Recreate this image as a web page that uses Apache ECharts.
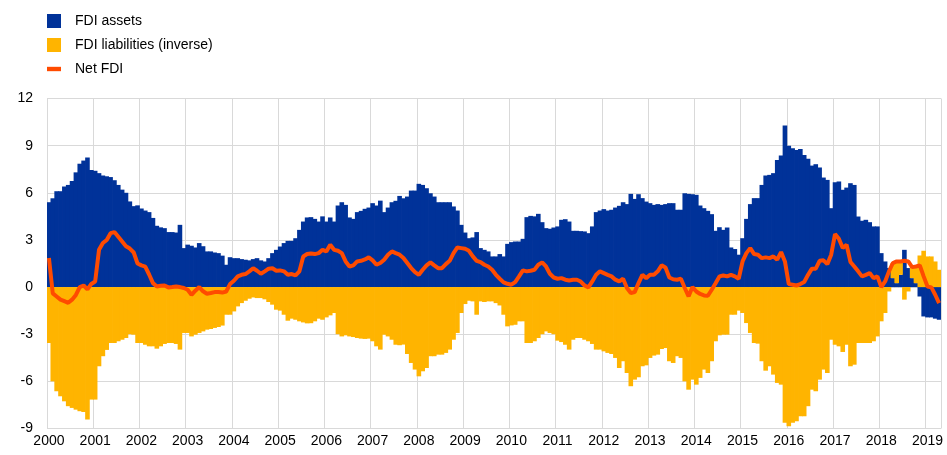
<!DOCTYPE html>
<html>
<head>
<meta charset="utf-8">
<script src="https://cdn.jsdelivr.net/npm/echarts@6/dist/echarts.min.js"></script>
<style>
  html, body { margin: 0; padding: 0; background: #fff; }
  #chart { width: 947px; height: 455px; }
</style>
</head>
<body>
<div id="chart"></div>
<script>
// monthly, Jan 2000 - Apr 2019
const startYear = 2000
const monthCount = 232

const fdiAssets = [
  5.4, 5.65, 6.1, 6.1, 6.4, 6.5, 6.75, 7.3, 7.85, 8.05, 8.25, 7.45,
  7.4, 7.25, 7.1, 7.05, 7.0, 6.8, 6.5, 6.2, 6.0, 5.45, 5.15, 5.2,
  5.0, 4.87, 4.77, 4.4, 3.9, 3.8, 3.75, 3.5, 3.5, 3.47, 3.96, 2.48,
  2.7, 2.63, 2.52, 2.8, 2.6, 2.27, 2.27, 2.2, 2.16, 2.0, 1.42, 1.9,
  1.84, 1.84, 1.78, 1.74, 1.7, 1.78, 1.84, 1.7, 1.63, 1.84, 2.16, 2.37,
  2.58, 2.8, 2.94, 2.94, 3.11, 3.64, 4.17, 4.43, 4.45, 4.34, 4.17, 4.5,
  4.17, 4.43, 4.17, 5.19, 5.4, 5.23, 4.43, 4.34, 4.77, 4.85, 4.98, 5.06,
  5.34, 5.19, 5.5, 4.77, 5.06, 5.4, 5.49, 5.8, 5.65, 5.76, 6.14, 6.14,
  6.57, 6.5, 6.29, 5.97, 5.76, 5.4, 5.4, 5.4, 5.4, 5.13, 4.87, 3.96,
  3.47, 3.11, 3.16, 3.5, 2.48, 2.37, 2.27, 1.95, 1.95, 2.1, 1.95, 2.75,
  2.86, 2.9, 2.9, 3.07, 4.45, 4.53, 4.5, 4.66, 4.13, 3.75, 3.71, 3.79,
  3.86, 4.28, 4.32, 4.17, 3.58, 3.58, 3.56, 3.54, 3.43, 3.86, 4.77, 4.87,
  4.96, 4.87, 4.92, 5.06, 5.17, 5.4, 5.28, 5.93, 5.61, 5.91, 5.66, 5.44,
  5.34, 5.23, 5.28, 5.23, 5.28, 5.34, 5.34, 4.92, 4.92, 5.97, 5.93, 5.91,
  5.87, 5.19, 5.02, 4.85, 4.64, 3.58, 3.81, 3.64, 3.79, 2.52, 2.42, 2.06,
  3.11, 4.34, 5.28, 5.66, 5.66, 6.5, 7.1, 7.14, 7.25, 8.09, 8.37, 10.28,
  9.0, 8.83, 8.73, 8.79, 8.41, 8.16, 7.73, 7.82, 7.61, 6.97, 6.82, 5.02,
  6.67, 6.72, 6.19, 6.33, 6.61, 6.5, 4.49, 4.22, 4.28, 4.13, 3.86, 3.86,
  2.16, 1.63, 1.21, 0.57, 0.25, 0.78, 2.37, 1.21, 0.57, 0.25, -0.6, -1.87,
  -1.93, -1.93, -2.01, -2.08
]

const fdiLiabilities = [
  -3.56, -6.0, -6.63, -6.95, -7.27, -7.58, -7.69, -7.8, -7.9, -7.95, -8.43, -7.16,
  -7.16, -5.04, -4.4, -4.0, -3.56, -3.56, -3.45, -3.35, -3.24, -3.0, -3.03, -3.56,
  -3.56, -3.67, -3.77, -3.77, -3.92, -3.77, -3.62, -3.56, -3.56, -3.62, -3.98, -2.92,
  -2.92, -3.14, -3.03, -2.92, -2.82, -2.71, -2.67, -2.6, -2.54, -2.45, -1.76, -1.76,
  -1.55, -1.23, -1.02, -0.87, -0.74, -0.66, -0.7, -0.7, -0.78, -0.95, -1.12, -1.44,
  -1.5, -1.76, -2.14, -2.01, -2.08, -2.18, -2.25, -2.31, -2.3, -2.18, -2.01, -2.08,
  -1.93, -1.8, -1.65, -3.0, -3.14, -3.07, -3.14, -3.18, -3.24, -3.28, -3.3, -3.28,
  -3.45, -3.77, -3.98, -3.03, -3.14, -3.35, -3.67, -3.7, -3.66, -4.26, -4.83, -5.25,
  -5.68, -5.36, -5.15, -4.4, -4.4, -4.3, -4.3, -4.19, -3.98, -3.35, -2.92, -1.65,
  -1.08, -0.87, -0.91, -1.76, -0.91, -0.95, -0.91, -0.91, -1.02, -1.17, -1.76, -2.5,
  -2.44, -2.4, -2.18, -2.18, -3.56, -3.56, -3.45, -3.24, -3.0, -2.82, -2.92, -3.0,
  -3.41, -3.5, -3.67, -3.98, -3.35, -3.24, -3.24, -3.35, -3.45, -3.62, -3.98, -3.98,
  -4.09, -4.19, -4.26, -4.51, -5.15, -4.72, -5.47, -6.31, -5.89, -5.74, -5.04, -4.98,
  -4.51, -4.36, -4.3, -3.94, -3.88, -4.72, -4.83, -4.4, -4.51, -6.0, -6.53, -5.89,
  -6.21, -5.78, -5.25, -5.47, -4.72, -3.45, -3.07, -3.03, -3.03, -1.76, -1.76, -1.5,
  -1.65, -2.29, -2.92, -3.56, -3.6, -4.72, -5.32, -5.04, -5.57, -6.1, -6.21, -8.64,
  -8.86, -8.64, -8.54, -8.22, -8.22, -7.58, -6.53, -6.63, -5.89, -5.25, -5.47, -3.35,
  -3.67, -3.77, -4.13, -3.67, -5.04, -4.94, -3.56, -3.56, -3.56, -3.56, -3.45, -3.14,
  -2.18, -1.65, -0.28, 0.96, 1.38, 0.85, -0.8, -0.28, 0.7, 1.06, 2.01, 2.31,
  1.95, 1.95, 1.63, 1.1
]

const netFdi = [
  1.85, -0.4, -0.6, -0.8, -0.9, -1.0, -0.8, -0.5, 0.0, 0.1, -0.15, 0.2,
  0.35, 2.37, 2.8, 3.0, 3.43, 3.5, 3.2, 2.9, 2.6, 2.45, 2.2, 1.5,
  1.38, 1.3, 0.8, 0.25, 0.04, 0.08, 0.1, -0.02, 0.0, 0.04, 0.0, -0.06,
  -0.17, -0.5, -0.23, 0.0, -0.27, -0.42, -0.38, -0.32, -0.32, -0.35, -0.28, 0.19,
  0.4, 0.68, 0.78, 0.83, 1.0, 1.2, 1.04, 0.85, 1.0, 1.17, 1.2, 1.04,
  1.06, 1.0, 0.78, 0.83, 0.74, 1.0, 1.95, 2.1, 2.14, 2.1, 2.16, 2.37,
  2.27, 2.69, 2.37, 2.31, 2.16, 1.63, 1.31, 1.38, 1.63, 1.67, 1.76, 1.89,
  1.7, 1.42, 1.53, 1.74, 2.06, 2.27, 2.16, 2.06, 1.85, 1.53, 1.21, 0.95,
  0.78, 1.1, 1.38, 1.57, 1.38, 1.2, 1.2, 1.46, 1.67, 2.16, 2.52, 2.48,
  2.44, 2.31, 1.95, 1.67, 1.59, 1.42, 1.31, 1.1, 0.78, 0.53, 0.3, 0.21,
  0.15, 0.32, 0.68, 1.06, 1.0, 1.04, 1.1, 1.42, 1.57, 1.31, 0.85, 0.61,
  0.53, 0.57, 0.47, 0.42, 0.47, 0.47, 0.35, 0.1, -0.02, 0.36, 0.78, 1.0,
  0.89, 0.78, 0.68, 0.47, 0.36, 0.53, -0.06, -0.38, -0.32, 0.25, 0.78, 0.57,
  0.78, 0.78, 1.0, 1.38, 1.25, 0.61, 0.5, 0.47, 0.53, -0.06, -0.59, 0.0,
  -0.28, -0.44, -0.53, -0.55, -0.17, 0.25, 0.68, 0.74, 0.68, 0.78, 0.68, 0.53,
  1.63, 2.16, 2.48, 2.1, 2.06, 1.84, 1.89, 1.84, 1.95, 1.74, 2.23, 1.63,
  0.19, 0.15, 0.1, 0.19, 0.32, 0.78, 1.17, 1.17, 1.67, 1.7, 1.46, 2.06,
  3.37, 3.07, 2.48, 2.69, 1.6, 1.31, 1.0, 0.68, 0.78, 0.89, 0.57, 0.68,
  0.0, 0.36, 1.0, 1.53, 1.63, 1.63, 1.67, 1.63, 1.27, 1.31, 1.38, 0.68,
  0.04, -0.02, -0.49, -1.02
]

// month categories, e.g. 2000-01
const months = []
for (let i = 0; i < monthCount; i++) {
  const y = startYear + Math.floor(i / 12)
  const m = (i % 12) + 1
  months.push(y + '-' + (m < 10 ? '0' + m : m))
}

const font = 'Liberation Sans, Arial, sans-serif'
const chart = echarts.init(document.getElementById('chart'))

const option = {
  animation: false,
  textStyle: { fontFamily: font },
  legend: {
    orient: 'vertical',
    left: 42,
    top: 9,
    itemWidth: 14,
    itemHeight: 14,
    itemGap: 10,
    textStyle: { fontSize: 14, color: '#000', fontFamily: font, padding: [0, 0, 0, 9] },
    data: [
      { name: 'FDI assets', icon: 'rect' },
      { name: 'FDI liabilities (inverse)', icon: 'rect' },
      { name: 'Net FDI', icon: 'path://M0,0H16V5H0Z' }
    ]
  },
  grid: {
    left: 47,
    right: 6,
    top: 98.5,
    bottom: 26.5,
    containLabel: false
  },
  xAxis: {
    type: 'category',
    data: months,
    boundaryGap: true,
    axisLine: { show: false },
    axisTick: { show: false },
    axisLabel: {
      interval: function (index) { return index % 12 === 0 },
      formatter: function (value) { return value.slice(0, 4) },
      fontSize: 14,
      color: '#000',
      margin: 6
    },
    splitLine: {
      show: true,
      interval: function (index) { return index % 12 === 0 },
      lineStyle: { color: '#d9d9d9', width: 1 }
    }
  },
  yAxis: {
    type: 'value',
    min: -9,
    max: 12,
    interval: 3,
    axisLine: { show: false },
    axisTick: { show: false },
    axisLabel: { fontSize: 14, color: '#000', margin: 14 },
    splitLine: { lineStyle: { color: '#d9d9d9', width: 1 } }
  },
  series: [
    {
      name: 'FDI assets',
      type: 'bar',
      stack: 'fdi',
      data: fdiAssets,
      barWidth: 4.6,
      itemStyle: { color: '#003299' }
    },
    {
      name: 'FDI liabilities (inverse)',
      type: 'bar',
      stack: 'fdi',
      data: fdiLiabilities,
      barWidth: 4.6,
      itemStyle: { color: '#ffb400' }
    },
    {
      name: 'Net FDI',
      type: 'line',
      data: netFdi,
      showSymbol: false,
      symbol: 'none',
      itemStyle: { color: '#ff4b00' },
      lineStyle: { color: '#ff4b00', width: 4 },
      z: 5
    }
  ]
}

chart.setOption(option)
</script>
</body>
</html>
